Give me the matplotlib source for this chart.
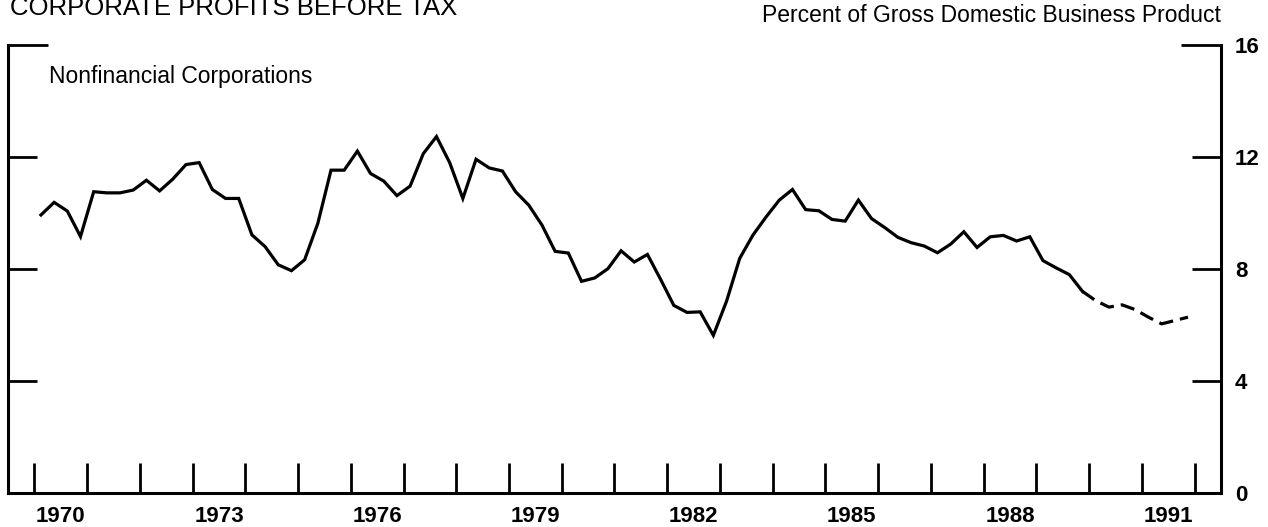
import numpy as np
import matplotlib.pyplot as plt

plt.rcParams['font.family'] = ['Liberation Sans', 'DejaVu Sans']

# Quarterly profits, percent of gross domestic business product, 1970Q1-1991Q4
start_year = 1970
profits = [
    9.93, 10.38, 10.07, 9.16,    # 1970
    10.76, 10.72, 10.72, 10.82,  # 1971
    11.17, 10.79, 11.21, 11.73,  # 1972
    11.80, 10.84, 10.52, 10.52,  # 1973
    9.22, 8.80, 8.15, 7.94,      # 1974
    8.33, 9.63, 11.53, 11.53,    # 1975
    12.21, 11.41, 11.14, 10.62,  # 1976
    10.96, 12.12, 12.73, 11.80,  # 1977
    10.52, 11.92, 11.61, 11.50,  # 1978
    10.76, 10.28, 9.57, 8.63,    # 1979
    8.57, 7.56, 7.68, 8.01,      # 1980
    8.65, 8.25, 8.52, 7.63,      # 1981
    6.70, 6.45, 6.47, 5.63,      # 1982
    6.85, 8.38, 9.21, 9.86,      # 1983
    10.46, 10.84, 10.12, 10.08,  # 1984
    9.77, 9.71, 10.46, 9.80,     # 1985
    9.48, 9.13, 8.94, 8.82,      # 1986
    8.58, 8.89, 9.33, 8.77,      # 1987
    9.15, 9.20, 9.00, 9.15,      # 1988
    8.30, 8.04, 7.80, 7.20,      # 1989
    6.87, 6.64, 6.72, 6.55,      # 1990
    6.28, 6.04, 6.16, 6.28,      # 1991
]
dashed_from = 79  # estimates start at 1989Q4

year_labels = [1970, 1973, 1976, 1979, 1982, 1985, 1988, 1991]
y_ticks = [0, 4, 8, 12, 16]

# quarter midpoints
t = start_year + (np.arange(len(profits)) + 0.5) / 4
p = np.array(profits)

fig = plt.figure(figsize=(12.68, 5.27), dpi=100)
ax = fig.add_axes([0.0063, 0.0645, 0.9566, 0.8501])

ax.plot(t[:dashed_from + 1], p[:dashed_from + 1], color='black', lw=2.3,
        solid_joinstyle='miter')
ax.plot(t[dashed_from:], p[dashed_from:], color='black', lw=2.3,
        dashes=(4.5, 2.2))

ax.set_xlim(start_year - 0.5, 1992.5)
ax.set_ylim(0, 16)

ax.spines['top'].set_visible(False)
for s in ['left', 'right', 'bottom']:
    ax.spines[s].set_linewidth(2.2)

# y axis: ticks both sides, labels on the right
ax.set_yticks(y_ticks)
ax.set_yticklabels([str(v) for v in y_ticks], fontweight='bold')
ax.tick_params(axis='y', which='major', direction='in', left=True, right=True,
               labelleft=False, labelright=True, length=21, width=2,
               pad=10, labelsize=16)
top = ax.yaxis.get_major_ticks()[-1]
top.tick1line.set_markersize(29)
top.tick2line.set_markersize(29)

# x axis: a tick every year, labels centred in every third year
ax.set_xticks(np.arange(start_year, 1993))
ax.set_xticklabels([])
ax.set_xticks([y + 0.5 for y in year_labels], minor=True)
ax.set_xticklabels([str(y) for y in year_labels], minor=True,
                   fontweight='bold')
ax.tick_params(axis='x', which='major', direction='in', length=21.5, width=2)
ax.tick_params(axis='x', which='minor', length=0, pad=9, labelsize=16)

ax.text(0.034, 0.93, 'Nonfinancial Corporations', transform=ax.transAxes,
        fontsize=16.5, va='center', ha='left')

fig.text(0.008, 1 - 15 / 527, 'CORPORATE PROFITS BEFORE TAX', fontsize=18.5,
         va='baseline', ha='left')
fig.text(0.963, 1 - 15 / 527, 'Percent of Gross Domestic Business Product',
         fontsize=16.5, va='center', ha='right')

fig.savefig('out.png', dpi=100)
